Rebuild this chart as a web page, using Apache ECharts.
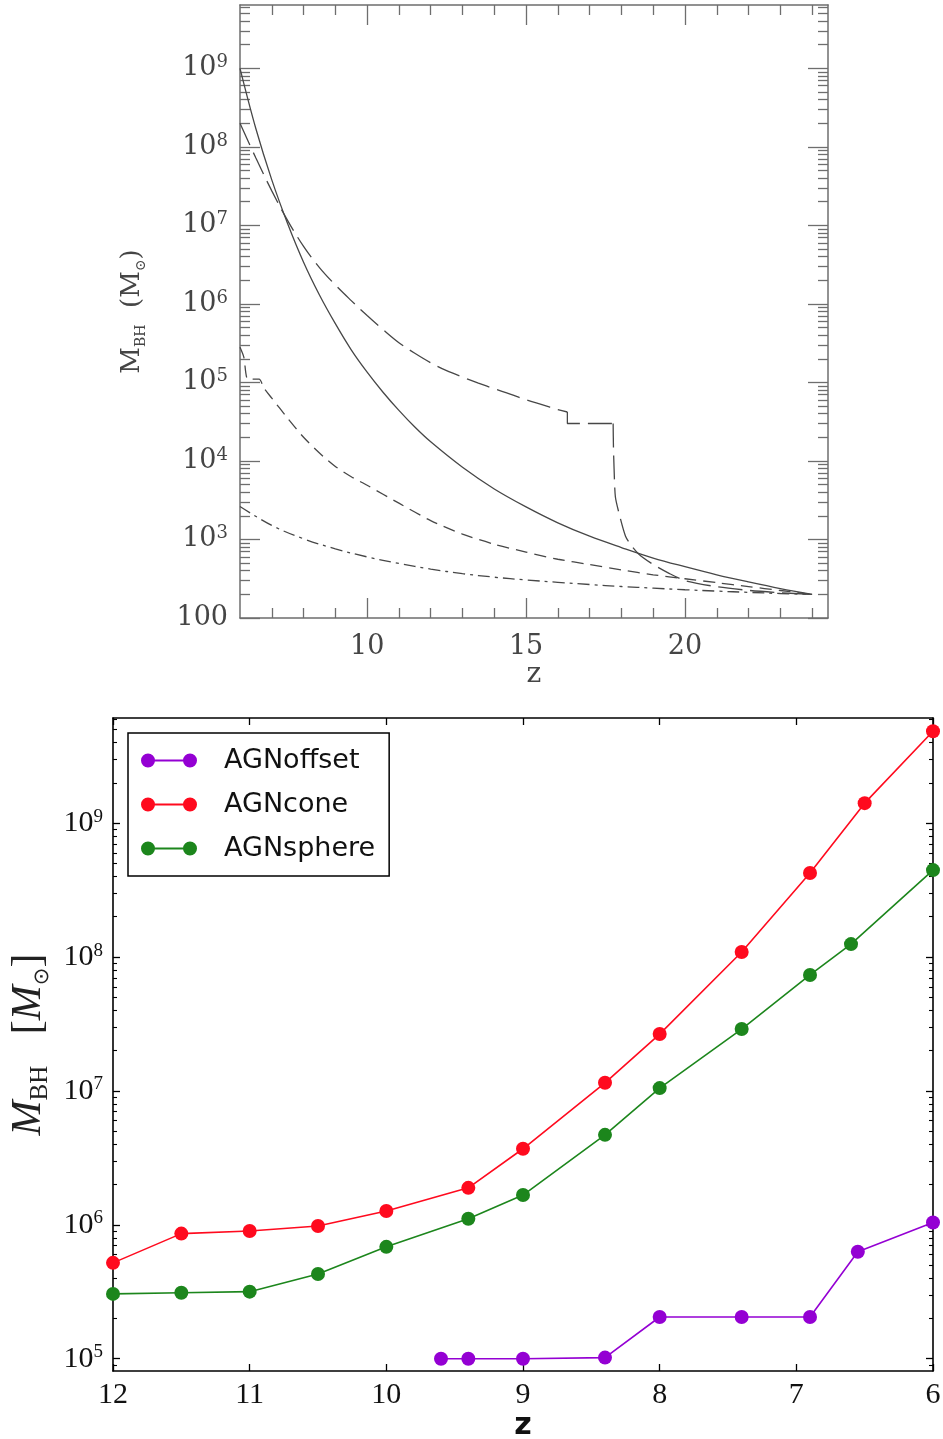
<!DOCTYPE html>
<html><head><meta charset="utf-8">
<script src="https://cdn.jsdelivr.net/npm/echarts@6/dist/echarts.min.js"></script>
<style>html,body{margin:0;padding:0;background:#fff}#c{width:943px;height:1439px}</style>
</head><body><div id="c"></div>
<script>
// ---------- TOP PANEL DATA (M_BH vs z) ----------
const topSolidZ = [6,6.5,7,7.5,8,8.5,9,9.5,10,10.5,11,11.5,12,13,14,15,16,17,18,19,20,21,22,23,24];
const topSolidM = [1.0e9,1.7e8,3.8e7,1.05e7,3.4e6,1.3e6,5.6e5,2.6e5,1.35e5,7.5e4,4.4e4,2.7e4,1.75e4,8.3e3,4.4e3,2.6e3,1.63e3,1.1e3,790,580,450,355,288,237,200];

// long-dashed track: growth branch, plateau step, early rapid-growth branch
const topLongAZ = [6,6.5,7,7.5,8,8.5,9,9.5,10,10.5,11,11.5,12,12.5,13,13.5,14,14.5,15,15.5,16,16.3];
const topLongAM = [2.0e8,7.2e7,2.75e7,1.15e7,5.4e6,2.9e6,1.74e6,1.1e6,7.1e5,4.7e5,3.2e5,2.35e5,1.78e5,1.41e5,1.17e5,9.8e4,8.3e4,7.1e4,6.0e4,5.2e4,4.5e4,4.2e4];
const topLongBZ = [16.3,16.3,17.74];
const topLongBM = [4.2e4,3.0e4,3.0e4];
const topLongCZ = [17.74,17.75,17.77,17.81,17.92,18.13,18.3,18.55,19,19.5,20,21,22,23,24];
const topLongCM = [3.0e4,1.5e4,7.9e3,3.5e3,2.2e3,1.1e3,850,650,480,370,300,250,225,210,200];

const topShortZ = [6,6.12,6.25,6.6,6.75,7,7.5,8,8.5,9,9.5,10,11,12,13,14,15,16,17,18,19,20,21,22,23,24];
const topShortM = [2.8e5,2.1e5,1.1e5,1.1e5,8.5e4,6.3e4,3.5e4,2.0e4,1.26e4,8.5e3,6.3e3,4.9e3,2.9e3,1.74e3,1.17e3,870,690,560,480,410,355,316,282,251,224,200];

const topDotZ = [6,7,8,9,10,11,12,13,14,15,16,17,18,19,20,21,22,23,24];
const topDotM = [2630,1510,1020,760,600,495,420,367,331,305,285,267,252,240,229,220,212,205,200];

const topXMajor = [10,15,20];
const topXMinor = [7,8,9,11,12,13,14,16,17,18,19,21,22,23,24];
const topYMajor = [1e2,1e3,1e4,1e5,1e6,1e7,1e8,1e9];

// ---------- BOTTOM PANEL DATA ----------
const offsetZ = [9.6,9.4,9,8.4,8,7.4,6.9,6.55,6];
const offsetM = [1.0e5,1.0e5,1.0e5,1.02e5,2.05e5,2.05e5,2.05e5,6.3e5,1.04e6];

const coneZ = [12,11.5,11,10.5,10,9.4,9,8.4,8,7.4,6.9,6.5,6];
const coneM = [5.2e5,8.6e5,9.0e5,9.8e5,1.27e6,1.89e6,3.7e6,1.15e7,2.66e7,1.09e8,4.24e8,1.41e9,4.86e9];

const sphereZ = [12,11.5,11,10.5,10,9.4,9,8.4,8,7.4,6.9,6.6,6];
const sphereM = [3.05e5,3.11e5,3.17e5,4.3e5,6.85e5,1.11e6,1.67e6,4.7e6,1.05e7,2.9e7,7.35e7,1.25e8,4.46e8];

const botXTicks = [12,11,10,9,8,7,6];
const botYMajor = [1e5,1e6,1e7,1e8,1e9];

const TOP_YMIN = 100, TOP_YMAX = 6.4e9;
const BOT_YMIN = 8.1e4, BOT_YMAX = 6.1e9;

function minorLog(lo, hi, vmin, vmax){
  const r=[];
  for(let e=lo;e<=hi;e++) for(let m=2;m<=9;m++){ const v=m*Math.pow(10,e); if(v>vmin && v<vmax) r.push(v); }
  return r;
}
const topYMinor = minorLog(2,9,TOP_YMIN,TOP_YMAX);
const botYMinor = minorLog(4,9,BOT_YMIN,BOT_YMAX);

function pairs(zs, ms){ return zs.map((z,i)=>[z, ms[i]]); }

const TC = '#6e6e6e';   // top frame colour
const TL = '#474747';   // top line colour
const TFONT = 'DejaVu Serif';
const BFONT = 'Liberation Serif';

function tAxisLine(show){ return {show:show, onZero:false, lineStyle:{color:TC, width:1.5}}; }
function bAxisLine(show){ return {show:show, onZero:false, lineStyle:{color:'#000', width:1.6}}; }

const topXBase = {gridIndex:0, type:'value', min:6, max:24.5, splitLine:{show:false}, axisLabel:{show:false}};
const botXBase = {gridIndex:1, type:'value', min:6, max:12, inverse:true, interval:1, splitLine:{show:false}, axisLabel:{show:false}};
const topYBase = {gridIndex:0, type:'log', logBase:10, min:TOP_YMIN, max:TOP_YMAX, splitLine:{show:false}, axisLabel:{show:false}};
const botYBase = {gridIndex:1, type:'log', logBase:10, min:BOT_YMIN, max:BOT_YMAX, splitLine:{show:false}, axisLabel:{show:false}};

const topRich = {
  b:{fontFamily:TFONT, fontSize:27, color:'#454545', lineHeight:30},
  s:{fontFamily:TFONT, fontSize:18, color:'#454545', lineHeight:18, verticalAlign:'top'}
};
const botRich = {
  b:{fontFamily:BFONT, fontSize:30, color:'#111', lineHeight:32},
  s:{fontFamily:BFONT, fontSize:19, color:'#111', lineHeight:19, verticalAlign:'top'}
};

const xAxis = [
  Object.assign({}, topXBase, {position:'bottom', axisLine:tAxisLine(true),
    axisTick:{show:true, inside:true, length:20, customValues:topXMajor, lineStyle:{color:TC, width:1.3}},
    axisLabel:{show:true, customValues:topXMajor, margin:15, fontFamily:TFONT, fontSize:27, color:'#454545'},
    name:'z', nameLocation:'middle', nameGap:42, nameTextStyle:{fontFamily:TFONT, fontSize:28, color:'#454545'}}),
  Object.assign({}, topXBase, {position:'bottom', axisLine:tAxisLine(false),
    axisTick:{show:true, inside:true, length:10, customValues:topXMinor, lineStyle:{color:TC, width:1.3}}}),
  Object.assign({}, topXBase, {position:'top', axisLine:tAxisLine(true),
    axisTick:{show:true, inside:true, length:20, customValues:topXMajor, lineStyle:{color:TC, width:1.3}}}),
  Object.assign({}, topXBase, {position:'top', axisLine:tAxisLine(false),
    axisTick:{show:true, inside:true, length:10, customValues:topXMinor, lineStyle:{color:TC, width:1.3}}}),
  Object.assign({}, botXBase, {position:'bottom', axisLine:bAxisLine(true),
    axisTick:{show:true, inside:true, length:7, customValues:botXTicks, lineStyle:{color:'#000', width:1.3}},
    axisLabel:{show:true, customValues:botXTicks, margin:9, fontFamily:BFONT, fontSize:30, color:'#111'},
    name:'z', nameLocation:'middle', nameGap:34, nameTextStyle:{fontFamily:'DejaVu Sans', fontWeight:'bold', fontSize:30, color:'#111'}}),
  Object.assign({}, botXBase, {position:'top', axisLine:bAxisLine(true),
    axisTick:{show:true, inside:true, length:7, customValues:botXTicks, lineStyle:{color:'#000', width:1.3}}})
];

const yAxis = [
  Object.assign({}, topYBase, {position:'left', axisLine:tAxisLine(true),
    axisTick:{show:true, inside:true, length:20, customValues:topYMajor, lineStyle:{color:TC, width:1.3}},
    axisLabel:{show:true, customValues:topYMajor, margin:12,
      formatter:function(v){ const e=Math.round(Math.log10(v)); return e===2 ? '{b|100}' : '{b|10}{s|'+e+'}'; },
      rich:topRich},
    name:'{m|M}{u|BH}{m|  (M}{u|⊙}{m|)}', nameLocation:'middle', nameGap:92,
    nameTextStyle:{rich:{m:{fontFamily:TFONT, fontSize:26, color:'#454545'}, u:{fontFamily:TFONT, fontSize:14, color:'#454545', verticalAlign:'bottom', lineHeight:32}}}}),
  Object.assign({}, topYBase, {position:'left', axisLine:tAxisLine(false),
    axisTick:{show:true, inside:true, length:10, customValues:topYMinor, lineStyle:{color:TC, width:1.3}}}),
  Object.assign({}, topYBase, {position:'right', axisLine:tAxisLine(true),
    axisTick:{show:true, inside:true, length:20, customValues:topYMajor, lineStyle:{color:TC, width:1.3}}}),
  Object.assign({}, topYBase, {position:'right', axisLine:tAxisLine(false),
    axisTick:{show:true, inside:true, length:10, customValues:topYMinor, lineStyle:{color:TC, width:1.3}}}),
  Object.assign({}, botYBase, {position:'left', axisLine:bAxisLine(true),
    axisTick:{show:true, inside:true, length:7, customValues:botYMajor, lineStyle:{color:'#000', width:1.3}},
    axisLabel:{show:true, customValues:botYMajor, margin:10,
      formatter:function(v){ const e=Math.round(Math.log10(v)); return '{b|10}{s|'+e+'}'; },
      rich:botRich},
    name:'{m|M}{u|BH}{n|   [}{m|M}{v|⊙}{n|]}', nameLocation:'middle', nameGap:60,
    nameTextStyle:{rich:{
      m:{fontFamily:BFONT, fontStyle:'italic', fontSize:42, color:'#222'},
      n:{fontFamily:BFONT, fontSize:42, color:'#222'},
      u:{fontFamily:BFONT, fontSize:25, color:'#222', verticalAlign:'bottom', lineHeight:48},
      v:{fontFamily:'DejaVu Sans', fontSize:21, color:'#222', verticalAlign:'bottom', lineHeight:48}}}}),
  Object.assign({}, botYBase, {position:'left', axisLine:bAxisLine(false),
    axisTick:{show:true, inside:true, length:4, customValues:botYMinor, lineStyle:{color:'#000', width:1.1}}}),
  Object.assign({}, botYBase, {position:'right', axisLine:bAxisLine(true),
    axisTick:{show:true, inside:true, length:7, customValues:botYMajor, lineStyle:{color:'#000', width:1.3}}}),
  Object.assign({}, botYBase, {position:'right', axisLine:bAxisLine(false),
    axisTick:{show:true, inside:true, length:4, customValues:botYMinor, lineStyle:{color:'#000', width:1.1}}})
];

function topLine(name, zs, ms, dash, smooth){
  return {name:name, type:'line', xAxisIndex:0, yAxisIndex:0, data:pairs(zs,ms), symbol:'none',
    smooth:smooth, lineStyle:{color:TL, width:1.3, type:dash}, z:3, silent:true};
}
function botLine(name, zs, ms, color){
  return {name:name, type:'line', xAxisIndex:4, yAxisIndex:4, data:pairs(zs,ms), symbol:'circle', symbolSize:14,
    showAllSymbol:true, itemStyle:{color:color}, lineStyle:{color:color, width:1.6}, z:3, clip:false};
}

const legendIcon = 'path://M0,7A7,7,0,1,1,14,7A7,7,0,1,1,0,7Z M42,7A7,7,0,1,1,56,7A7,7,0,1,1,42,7Z M7,6L49,6L49,8L7,8Z';

const option = {
  animation:false,
  backgroundColor:'#fff',
  grid:[
    {left:240, top:5, width:588, height:613, outerBoundsMode:'none', containLabel:false},
    {left:113, top:718, width:820, height:653, outerBoundsMode:'none', containLabel:false}
  ],
  xAxis:xAxis,
  yAxis:yAxis,
  legend:{
    data:['AGNoffset','AGNcone','AGNsphere'],
    orient:'vertical', left:128, top:733,
    padding:[14,14,14,13], itemGap:17, itemWidth:56, itemHeight:14,
    icon:legendIcon,
    backgroundColor:'#fff', borderColor:'#000', borderWidth:1.5, borderRadius:0,
    textStyle:{fontFamily:'DejaVu Sans', fontSize:27, color:'#111', padding:[0,0,0,22]},
    selectedMode:false
  },
  series:[
    topLine('solid', topSolidZ, topSolidM, 'solid', 0.35),
    topLine('longdashA', topLongAZ, topLongAM, [24,8], 0.35),
    topLine('longdashB', topLongBZ, topLongBM, [24,8], false),
    topLine('longdashC', topLongCZ, topLongCM, [24,8], 0.25),
    topLine('shortdash', topShortZ, topShortM, [12,7], 0.25),
    topLine('dotdash', topDotZ, topDotM, [12,5,3,5], 0.35),
    botLine('AGNoffset', offsetZ, offsetM, '#9400d3'),
    botLine('AGNcone', coneZ, coneM, '#ff0a1e'),
    botLine('AGNsphere', sphereZ, sphereM, '#1c861c')
  ]
};
const chart = echarts.init(document.getElementById('c'));
chart.setOption(option);
</script>
</body></html>
